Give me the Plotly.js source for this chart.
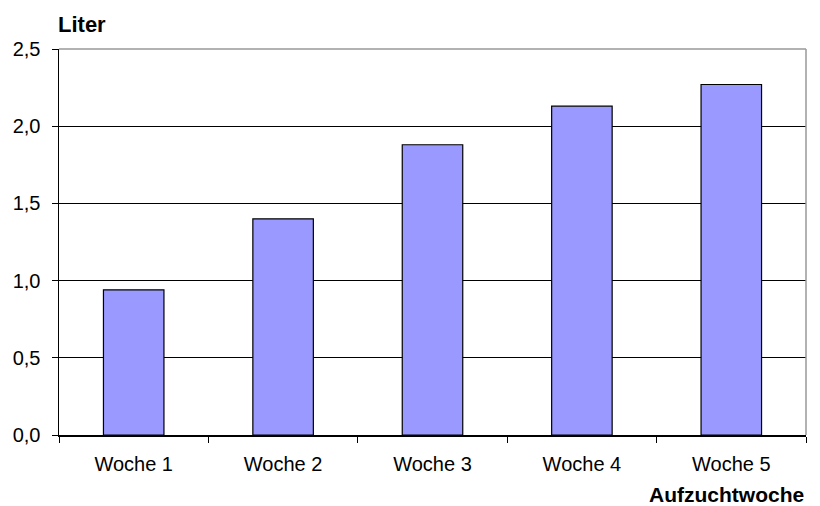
<!DOCTYPE html>
<html>
<head>
<meta charset="utf-8">
<script src="https://cdn.plot.ly/plotly-3.0.1.min.js"></script>
<style>
  html, body { margin: 0; padding: 0; background: #ffffff; }
  #chart { width: 820px; height: 506px; }
</style>
</head>
<body>
<div id="chart"></div>
<script>
const categories = ["Woche 1", "Woche 2", "Woche 3", "Woche 4", "Woche 5"];
const liters = [0.94, 1.40, 1.88, 2.13, 2.27];
const yTickVals = [0, 0.5, 1.0, 1.5, 2.0, 2.5];
const yAxisTitle = "Liter";
const xAxisTitle = "Aufzuchtwoche";

const FONT = '"Liberation Sans", Arial, sans-serif';

const trace = {
  type: 'bar',
  x: categories,
  y: liters,
  marker: { color: '#9999FF', line: { color: '#000000', width: 1.2 } },
  hoverinfo: 'x+y'
};

const layout = {
  width: 820,
  height: 506,
  margin: { l: 59, r: 14, t: 49, b: 71 },
  paper_bgcolor: '#ffffff',
  plot_bgcolor: '#ffffff',
  separators: ',.',
  showlegend: false,
  bargap: 0.595,
  font: { family: FONT, size: 20, color: '#000000' },
  xaxis: {
    type: 'category',
    range: [-0.5, 4.5],
    showgrid: false,
    showline: true,
    linecolor: '#000000',
    linewidth: 1.5,
    ticks: 'outside',
    tickson: 'boundaries',
    ticklen: 6,
    tickcolor: '#000000',
    tickwidth: 1,
    ticklabelstandoff: 10,
    tickfont: { family: FONT, size: 20, color: '#000000' },
    zeroline: false,
    fixedrange: true
  },
  yaxis: {
    range: [0, 2.5],
    tickvals: yTickVals,
    tickformat: '.1f',
    showgrid: true,
    gridcolor: '#000000',
    gridwidth: 1.2,
    showline: true,
    linecolor: '#000000',
    linewidth: 1.5,
    ticks: 'outside',
    ticklen: 6,
    tickcolor: '#000000',
    tickwidth: 1,
    ticklabelstandoff: 7,
    tickfont: { family: FONT, size: 20, color: '#000000' },
    zeroline: false,
    fixedrange: true
  },
  shapes: [
    { type: 'line', xref: 'paper', yref: 'paper', x0: 0, x1: 1, y0: 1, y1: 1,
      line: { color: '#999999', width: 1.5 }, layer: 'above' },
    { type: 'line', xref: 'paper', yref: 'paper', x0: 1, x1: 1, y0: 0, y1: 1,
      line: { color: '#999999', width: 1.5 }, layer: 'above' }
  ],
  annotations: [
    { text: '<b>' + yAxisTitle + '</b>', xref: 'paper', yref: 'paper',
      x: -0.004, y: 1, xanchor: 'left', yanchor: 'bottom', yshift: 10,
      showarrow: false, font: { family: FONT, size: 22, color: '#000000' } },
    { text: '<b>' + xAxisTitle + '</b>', xref: 'paper', yref: 'paper',
      x: 1, y: 0, xanchor: 'right', yanchor: 'top', yshift: -46,
      showarrow: false, font: { family: FONT, size: 21, color: '#000000' } }
  ]
};

Plotly.newPlot('chart', [trace], layout, { displayModeBar: false, staticPlot: true });
</script>
</body>
</html>
